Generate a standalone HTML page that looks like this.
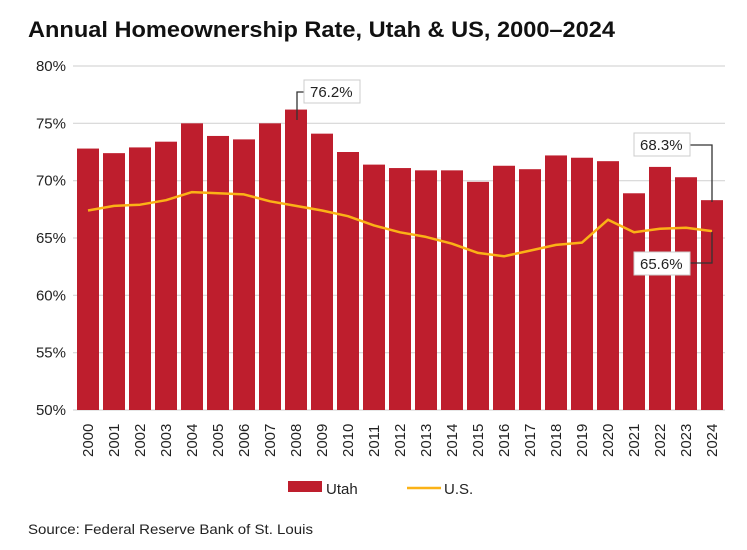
<!DOCTYPE html>
<html><head><meta charset="utf-8"><style>
body{margin:0;background:#fff;}
svg{display:block;font-family:"Liberation Sans",sans-serif;}
</style></head><body>
<svg width="747" height="550" viewBox="0 0 747 550" xmlns="http://www.w3.org/2000/svg">
<text x="28" y="37" font-size="22" font-weight="bold" fill="#111" textLength="587" lengthAdjust="spacingAndGlyphs">Annual Homeownership Rate, Utah &amp; US, 2000–2024</text>
<g id="grid" stroke="#d6d6d6" stroke-width="1.2"></g>
<g id="ylab" font-size="15" fill="#222" text-anchor="end"></g>
<g id="bars" fill="#be1e2d"></g>
<polyline id="us" fill="none" stroke="#fbb216" stroke-width="2.5" stroke-linejoin="round"/>
<g id="xlab" font-size="15" fill="#222"></g>
<g stroke="#333" stroke-width="1.3" fill="none">
<polyline points="297,120 297,92 304,92"/>
<polyline points="690,145 712,145 712,202"/>
<polyline points="690,263 712,263 712,232"/>
</g>
<g font-size="15" fill="#222">
<rect x="304" y="80" width="56" height="23" fill="#fff" stroke="#ccc"/>
<text x="310" y="97">76.2%</text>
<rect x="634" y="133" width="56" height="23" fill="#fff" stroke="#ccc"/>
<text x="640" y="150">68.3%</text>
<rect x="634" y="252" width="56" height="23" fill="#fff" stroke="#ccc"/>
<text x="640" y="269">65.6%</text>
</g>
<rect x="288" y="481" width="34" height="11" fill="#be1e2d"/>
<text x="326" y="494" font-size="15" fill="#222">Utah</text>
<line x1="407" y1="488" x2="441" y2="488" stroke="#fbb216" stroke-width="2.5"/>
<text x="444" y="494" font-size="15" fill="#222">U.S.</text>
<text x="28" y="534" font-size="14" fill="#222" textLength="285" lengthAdjust="spacingAndGlyphs">Source: Federal Reserve Bank of St. Louis</text>
</svg>
<script>
const ut=[72.8,72.4,72.9,73.4,75.0,73.9,73.6,75.0,76.2,74.1,72.5,71.4,71.1,70.9,70.9,69.9,71.3,71.0,72.2,72.0,71.7,68.9,71.2,70.3,68.3];
const us=[67.4,67.8,67.9,68.3,69.0,68.9,68.8,68.2,67.8,67.4,66.9,66.1,65.5,65.1,64.5,63.7,63.4,63.9,64.4,64.6,66.6,65.5,65.8,65.9,65.6];
const y=v=>410-(v-50)*344/30;
const ns="http://www.w3.org/2000/svg";
const mk=(t,a,p,txt)=>{const e=document.createElementNS(ns,t);for(const k in a)e.setAttribute(k,a[k]);if(txt)e.textContent=txt;document.getElementById(p).appendChild(e);};
for(let i=0;i<=6;i++){const v=50+5*i;mk('line',{x1:73,x2:725,y1:y(v),y2:y(v)},'grid');mk('text',{x:66,y:y(v)+5},'ylab',v+'%');}
let pts=[];
ut.forEach((v,i)=>{const x=77+26*i;mk('rect',{x:x,y:y(v),width:22,height:410-y(v)},'bars');pts.push((x+11)+','+y(us[i]).toFixed(1));
mk('text',{transform:`translate(${x+16},457) rotate(-90)`},'xlab',String(2000+i));});
document.getElementById('us').setAttribute('points',pts.join(' '));
</script>
</body></html>
